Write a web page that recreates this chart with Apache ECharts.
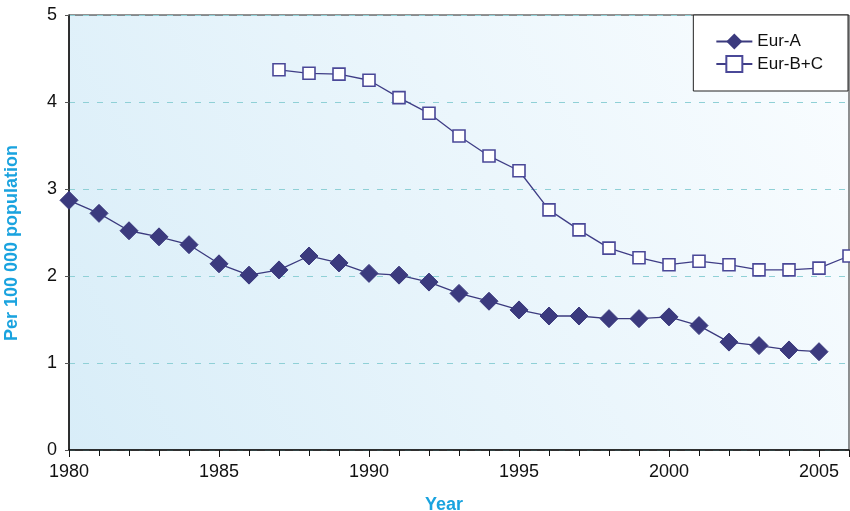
<!DOCTYPE html>
<html><head><meta charset="utf-8">
<script src="https://cdn.jsdelivr.net/npm/echarts@6/dist/echarts.min.js"></script>
<style>html,body{margin:0;padding:0;background:#fff}#c{width:850px;height:511px}</style>
</head><body><div id="c"></div>
<script>
const yearsA = [1980,1981,1982,1983,1984,1985,1986,1987,1988,1989,1990,1991,1992,1993,1994,1995,1996,1997,1998,1999,2000,2001,2002,2003,2004,2005];
const eurA = [2.87,2.72,2.52,2.45,2.36,2.14,2.01,2.07,2.23,2.15,2.03,2.01,1.93,1.80,1.71,1.61,1.54,1.54,1.51,1.51,1.53,1.43,1.24,1.20,1.15,1.13];
const yearsBC = [1987,1988,1989,1990,1991,1992,1993,1994,1995,1996,1997,1998,1999,2000,2001,2002,2003,2004,2005,2006];
const eurBC = [4.37,4.33,4.32,4.25,4.05,3.87,3.61,3.38,3.21,2.76,2.53,2.32,2.21,2.13,2.17,2.13,2.07,2.07,2.09,2.23];
const seriesNames = ['Eur-A','Eur-B+C'];
const xLabelText = 'Year';
const yLabelText = 'Per 100 000 population';

const chart = echarts.init(document.getElementById('c'), null, {renderer:'canvas'});
const font = '"Liberation Sans", Arial, sans-serif';
chart.setOption({
  animation:false,
  grid:{left:69,right:1,top:15,bottom:61,outerBoundsMode:'none',containLabel:false,show:true,borderColor:'#222',borderWidth:1,
    backgroundColor:new echarts.graphic.LinearGradient(0,1,1,0,[{offset:0,color:'#d8edf8'},{offset:1,color:'#fafdff'}])},
  legend:{
    orient:'vertical',right:2,top:15,
    backgroundColor:'#fff',borderColor:'#222',borderWidth:1,
    padding:[18,25,18,22],itemGap:5,itemWidth:36,itemHeight:20,
    textStyle:{fontFamily:font,fontSize:17,color:'#111'},
    data:seriesNames
  },
  xAxis:{type:'value',min:1980,max:2006,interval:5,
    name:xLabelText,nameLocation:'middle',nameGap:46,
    nameTextStyle:{fontFamily:font,fontSize:18,fontWeight:'bold',color:'#1aa3df',padding:[0,30,0,0]},
    axisLine:{show:true,lineStyle:{color:'#111',width:1.5}},
    axisTick:{show:true,length:7,lineStyle:{color:'#111'}},
    minorTick:{show:true,splitNumber:5,length:6,lineStyle:{color:'#111'}},
    axisLabel:{fontFamily:font,fontSize:18,color:'#111',margin:13,formatter:v=>String(v)},
    splitLine:{show:false}
  },
  yAxis:{type:'value',min:0,max:5,interval:1,
    name:yLabelText,nameLocation:'middle',nameGap:48,
    nameTextStyle:{fontFamily:font,fontSize:18,fontWeight:'bold',color:'#1aa3df',padding:[0,21,0,0]},
    axisLine:{show:true,lineStyle:{color:'#111',width:1.5}},
    axisTick:{show:true,length:4,lineStyle:{color:'#555'}},
    axisLabel:{fontFamily:font,fontSize:18,color:'#111',margin:12},
    splitLine:{show:true,lineStyle:{color:'#8fd0d6',type:[6,8],width:1.2}}
  },
  series:[
    {name:seriesNames[0],type:'line',data:yearsA.map((y,i)=>[y,eurA[i]]),
      symbol:'diamond',symbolSize:18,
      lineStyle:{color:'#3b3a7e',width:1.3},
      itemStyle:{color:'#3b3a7e',borderColor:'#3b3a7e'}},
    {name:seriesNames[1],type:'line',data:yearsBC.map((y,i)=>[y,eurBC[i]]),
      symbol:'rect',symbolSize:12,
      lineStyle:{color:'#3f3d86',width:1.3},
      itemStyle:{color:'#ffffff',borderColor:'#4a4898',borderWidth:1.6}}
  ]
});
</script></body></html>
